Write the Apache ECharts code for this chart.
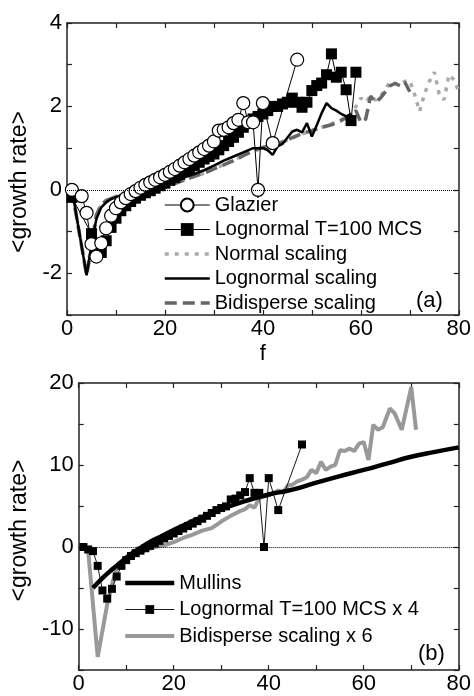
<!DOCTYPE html>
<html><head><meta charset="utf-8">
<script src="https://cdn.jsdelivr.net/npm/echarts@6/dist/echarts.min.js"></script>
<style>html,body{margin:0;padding:0;background:#fff}#c{width:474px;height:696px}</style>
</head><body><div id="c"></div>
<script>
// ---------- Panel (a) ----------
const glazierF = [1,3,4,5,6,7,8,9,10,11,12,13,14,15,16,17,18,19,20,21,22,23,24,25,26,27,28,29,30,31,32,33,34,35,36,37,38,39,40,42,47];
const glazierV = [0,-0.15,-0.55,-1.3,-1.6,-1.28,-0.92,-0.62,-0.44,-0.3,-0.2,-0.1,-0.03,0.05,0.12,0.18,0.24,0.3,0.36,0.43,0.5,0.58,0.66,0.74,0.82,0.9,0.98,1.06,1.16,1.42,1.44,1.5,1.6,1.68,2.08,1.62,1.62,0,2.08,1.12,3.12];

const lognF = [1,5,7,8,9,10,11,12,13,14,15,16,17,18,19,20,21,22,23,24,25,26,27,28,29,30,31,32,33,34,35,36,37,38,39,40,41,42,43,44,45,46,47,48,49,50,51,52,53,54,55,56,57,58,59];
const lognV = [-0.18,-1.05,-1.5,-1.22,-0.9,-0.68,-0.5,-0.38,-0.28,-0.2,-0.13,-0.07,-0.02,0.04,0.1,0.16,0.23,0.3,0.37,0.44,0.51,0.58,0.66,0.74,0.8,0.86,0.96,1.06,1.16,1.26,1.38,1.5,1.6,1.7,1.76,1.82,1.9,2.0,2.0,2.06,2.1,2.2,2.1,1.98,2.1,2.38,2.5,2.56,2.76,3.26,2.7,2.82,2.4,1.66,2.82];

const normalF = [1,4,5,6,7,8,10,12,15,18,20,22,25,28,30,33,36,38,40,42,44,46,48,50,52,54,56,58,59,60,61,62,63,64,65,66,67,68,69,70,71,72,73,74,75,76,77,78,79,80];
const normalV = [0,-2.0,-1.3,-0.6,-0.35,-0.25,-0.15,-0.1,-0.04,0,0.06,0.16,0.28,0.4,0.5,0.66,0.82,0.92,1.0,1.05,1.14,1.24,1.34,1.42,1.5,1.58,1.68,1.8,2.0,2.2,2.1,2.25,2.15,2.25,2.4,2.6,2.55,2.55,2.6,2.62,2.28,1.88,2.3,2.6,2.82,2.3,2.16,2.76,2.64,2.36];

const lognScaleF = [1,4,5,6,7,8,9,10,12,14,16,18,20,22,24,26,28,30,32,34,36,38,40,41,42,43,44,45,46,47,48,49,50,51,52,53,54,55,56,57,58];
const lognScaleV = [0.02,-2.05,-1.3,-0.7,-0.42,-0.3,-0.22,-0.17,-0.1,-0.05,-0.02,0,0.07,0.18,0.3,0.38,0.47,0.58,0.7,0.8,0.9,1.0,1.0,0.95,0.84,1.04,1.1,1.25,1.4,1.44,1.38,1.6,1.28,1.55,1.84,2.08,1.96,1.9,1.82,1.76,1.82];

const bidF = [1,4,5,6,7,8,10,12,15,18,20,22,25,28,30,32,34,36,38,40,42,44,46,48,50,52,54,56,58,59,60,61,62,63,64,65,66,67,68,69,70];
const bidV = [0,-2.05,-1.4,-0.6,-0.35,-0.26,-0.16,-0.1,-0.05,0,0.06,0.15,0.28,0.4,0.5,0.6,0.7,0.82,0.95,1.02,1.06,1.15,1.25,1.35,1.42,1.5,1.56,1.66,1.8,1.9,1.62,1.7,2.25,2.1,2.2,2.35,2.5,2.55,2.5,2.58,2.35];

// ---------- Panel (b) ----------
const mullinsF = [3,5,7,9,11,13,15,17,20,23,26,30,35,40,45,50,55,60,65,70,75,80];
const mullinsV = [-5.0,-3.8,-2.75,-1.8,-0.85,-0.1,0.6,1.2,2.07,2.9,3.65,4.6,5.6,6.4,7.0,7.85,8.65,9.4,10.2,11.0,11.6,12.15];

const logn4F = [1,2,3,4,5,6,7,8,9,10,11,12,13,14,15,16,17,18,19,20,21,22,23,24,25,26,27,28,29,30,31,32,33,34,35,36,37,38,39,40,42,47];
const logn4V = [0,-0.3,-0.5,-2.3,-5.3,-6.3,-5.1,-3.6,-2.3,-1.6,-1.1,-0.75,-0.45,-0.15,0.15,0.45,0.75,1.05,1.35,1.65,1.95,2.25,2.55,2.85,3.15,3.45,3.8,4.15,4.5,4.75,4.95,5.8,5.9,6.3,6.7,8.4,6.6,6.6,0,8.4,4.5,12.5];

const bid6F = [2,4,5,6,7,8,9,10,12,14,16,18,20,22,24,26,28,30,32,34,35,36,37,38,40,42,43,44,45,46,47,48,49,50,51,52,53,54,55,56,57,58,59,60,61,62,63,64,65.5,66.5,68,70,71];
const bid6V = [-0.5,-13.4,-10.2,-7.0,-4.6,-2.6,-1.8,-1.4,-0.8,-0.4,0,0.2,0.6,1.1,1.5,2.0,2.3,3.1,3.8,4.4,4.6,5.1,4.8,6.0,6.3,6.9,6.6,7.5,7.6,8.0,8.2,8.5,9.4,9.0,10.4,9.4,9.8,10.0,11.8,11.7,12.0,11.7,12.6,12.8,10.6,14.9,14.3,14.6,16.9,16.3,14.3,19.5,14.3];

// tick labels
const xLabels = [0,20,40,60,80];
const yLabelsA = [-2,0,2,4];
const yLabelsB = [-10,0,10,20];

const zip = (a,b) => a.map((x,i)=>[x,b[i]]);
const FONT = 'Liberation Sans, Arial, sans-serif';
const NOSYM = {color:'rgba(0,0,0,0)', borderColor:'rgba(0,0,0,0)', borderWidth:0, opacity:0};

function xAx(grid, pos, labels) {
  return {
    type:'value', gridIndex:grid, position:pos, min:0, max:80, interval:10,
    axisLine:{show:true, onZero:false, lineStyle:{color:'#222', width:1.5}},
    axisTick:{show:true, inside:true, length:5, lineStyle:{color:'#222', width:1.2}},
    splitLine:{show:false},
    axisLabel:{show: !!labels, margin:3, color:'#000', fontSize:22, fontFamily:FONT,
      formatter: v => (labels && labels.includes(v)) ? String(v) : ''}
  };
}
function yAx(grid, pos, min, max, interval, labels) {
  return {
    type:'value', gridIndex:grid, position:pos, min:min, max:max, interval:interval,
    axisLine:{show:true, onZero:false, lineStyle:{color:'#222', width:1.5}},
    axisTick:{show:true, inside:true, length:5, lineStyle:{color:'#222', width:1.2}},
    splitLine:{show:false},
    axisLabel:{show: !!labels, margin:5, color:'#000', fontSize:22, fontFamily:FONT,
      formatter: v => (labels && labels.includes(v)) ? String(v) : ''}
  };
}

const xAxes = [xAx(0,'bottom',xLabels), xAx(0,'top',null), xAx(1,'bottom',xLabels), xAx(1,'top',null)];
xAxes[0].name = 'f';
xAxes[0].nameLocation = 'middle';
xAxes[0].nameGap = 28;
xAxes[0].nameTextStyle = {color:'#000', fontSize:22, fontFamily:FONT};

const yAxes = [yAx(0,'left',-3,4,1,yLabelsA), yAx(0,'right',-3,4,1,null), yAx(1,'left',-15,20,5,yLabelsB), yAx(1,'right',-15,20,5,null)];
yAxes[0].name = '<growth rate>'; yAxes[0].nameLocation='middle'; yAxes[0].nameGap = 30;
yAxes[0].nameTextStyle = {color:'#000', fontSize:23, fontFamily:FONT, padding:[0,26,0,0]};
yAxes[2].name = '<growth rate>'; yAxes[2].nameLocation='middle'; yAxes[2].nameGap = 36;
yAxes[2].nameTextStyle = {color:'#000', fontSize:23, fontFamily:FONT, padding:[0,8,0,0]};

const zeroLine = {silent:true, symbol:'none', label:{show:false},
  lineStyle:{type:'dotted', color:'#000', width:1}, data:[{yAxis:0}], animation:false};

const series = [
  {name:'Normal scaling', type:'line', xAxisIndex:0, yAxisIndex:0, data:zip(normalF,normalV),
   showSymbol:false, itemStyle:NOSYM, lineStyle:{color:'#aaaaaa', width:3.5, type:[4,6]}, markLine: zeroLine},
  {name:'Bidisperse scaling', type:'line', xAxisIndex:0, yAxisIndex:0, data:zip(bidF,bidV),
   showSymbol:false, itemStyle:NOSYM, lineStyle:{color:'#666666', width:3.5, type:[12,6]}},
  {name:'Lognormal scaling', type:'line', xAxisIndex:0, yAxisIndex:0, data:zip(lognScaleF,lognScaleV),
   showSymbol:false, itemStyle:NOSYM, lineStyle:{color:'#000', width:2.5}},
  {name:'Lognormal T=100 MCS', type:'line', xAxisIndex:0, yAxisIndex:0, data:zip(lognF,lognV),
   symbol:'rect', symbolSize:11, itemStyle:{color:'#000'}, lineStyle:{color:'#000', width:1}},
  {name:'Glazier', type:'line', xAxisIndex:0, yAxisIndex:0, data:zip(glazierF,glazierV),
   symbol:'circle', symbolSize:13, itemStyle:{color:'#fff', borderColor:'#000', borderWidth:1.2},
   lineStyle:{color:'#000', width:1}},

  {name:'Bidisperse scaling x 6', type:'line', xAxisIndex:2, yAxisIndex:2, data:zip(bid6F,bid6V),
   showSymbol:false, itemStyle:NOSYM, lineStyle:{color:'#999999', width:4}, markLine: zeroLine},
  {name:'Mullins', type:'line', xAxisIndex:2, yAxisIndex:2, data:zip(mullinsF,mullinsV),
   showSymbol:false, itemStyle:NOSYM, smooth:true, lineStyle:{color:'#000', width:4.5}},
  {name:'Lognormal T=100 MCS x 4', type:'line', xAxisIndex:2, yAxisIndex:2, data:zip(logn4F,logn4V),
   symbol:'rect', symbolSize:8, itemStyle:{color:'#000'}, lineStyle:{color:'#000', width:0.9}}
];
series.forEach(s => { s.animation = false; });

const chart = echarts.init(document.getElementById('c'), null, {renderer:'canvas'});
chart.setOption({
  backgroundColor:'#fff',
  animation:false,
  grid:[
    {left:67, right:14, top:23, height:292, containLabel:false},
    {left:73, right:14, top:383, height:287, containLabel:false}
  ],
  xAxis:xAxes,
  yAxis:yAxes,
  legend:[
    {data:['Glazier','Lognormal T=100 MCS','Normal scaling','Lognormal scaling','Bidisperse scaling'],
     orient:'vertical', left:163, top:195, padding:0, itemGap:4.5, itemWidth:45, itemHeight:16,
     lineStyle:{width:'inherit'},
     textStyle:{color:'#000', fontSize:20, fontFamily:FONT, lineHeight:20}},
    {data:['Mullins','Lognormal T=100 MCS x 4','Bidisperse scaling x 6'],
     orient:'vertical', left:123, top:573, padding:0, itemGap:6.5, itemWidth:49, itemHeight:11,
     lineStyle:{width:'inherit'},
     textStyle:{color:'#000', fontSize:20, fontFamily:FONT, lineHeight:20}}
  ],
  graphic:[
    {type:'text', left:416, top:290, style:{text:'(a)', fill:'#000', font:'22px Liberation Sans, Arial, sans-serif'}},
    {type:'text', left:418, top:643, style:{text:'(b)', fill:'#000', font:'22px Liberation Sans, Arial, sans-serif'}}
  ],
  series:series
});
</script>
</body></html>
